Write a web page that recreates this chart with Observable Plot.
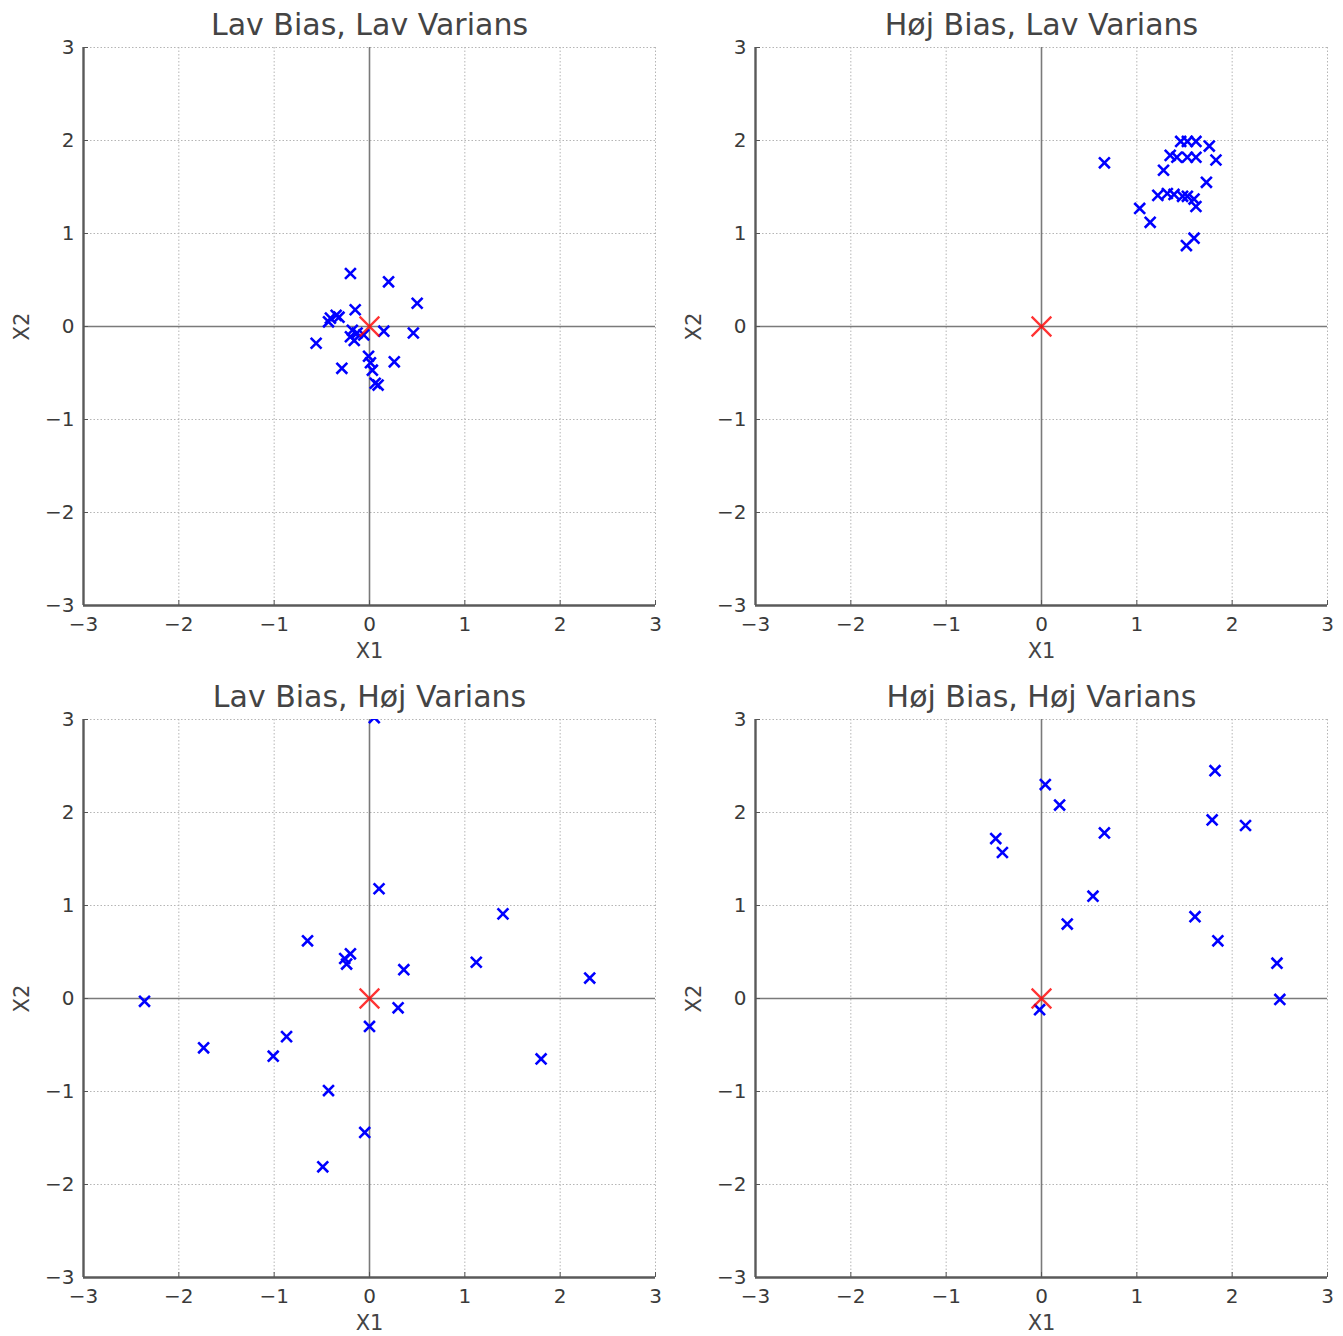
<!DOCTYPE html>
<html>
<head>
<meta charset="utf-8">
<script src="https://cdn.jsdelivr.net/npm/d3@7"></script>
<script src="https://cdn.jsdelivr.net/npm/@observablehq/plot@0.6"></script>
<style>
  html, body { margin: 0; padding: 0; background: #fff; }
  #wrap { position: relative; width: 1343px; height: 1336px; overflow: hidden; background: #fff; }
  #wrap > svg { position: absolute; }
</style>
</head>
<body>
<div id="wrap"></div>
<script>
// Titles
const titles = ["Lav Bias, Lav Varians", "Høj Bias, Lav Varians", "Lav Bias, Høj Varians", "Høj Bias, Høj Varians"];
const ticks = [-3, -2, -1, 0, 1, 2, 3];
const targetX = [0];
const targetY = [0];

// Panel 1: low bias, low variance
const llX = [-0.20, 0.20, 0.50, -0.15, -0.35, -0.41, -0.43, -0.32, -0.18, -0.13, -0.20, -0.16, -0.06, 0.15, 0.46, -0.56, -0.29, -0.01, 0.01, 0.03, 0.26, 0.06, 0.09];
const llY = [0.57, 0.48, 0.25, 0.18, 0.12, 0.09, 0.05, 0.10, -0.04, -0.07, -0.11, -0.15, -0.09, -0.05, -0.07, -0.18, -0.45, -0.32, -0.39, -0.47, -0.38, -0.61, -0.63];

// Panel 2: high bias, low variance
const hlX = [0.66, 1.46, 1.53, 1.62, 1.76, 1.83, 1.35, 1.42, 1.53, 1.62, 1.28, 1.73, 1.22, 1.32, 1.39, 1.48, 1.53, 1.60, 1.62, 1.03, 1.14, 1.60, 1.52];
const hlY = [1.76, 1.99, 1.99, 1.99, 1.94, 1.79, 1.84, 1.82, 1.82, 1.82, 1.68, 1.55, 1.41, 1.43, 1.42, 1.40, 1.40, 1.37, 1.29, 1.27, 1.12, 0.95, 0.87];

// Panel 3: low bias, high variance
const lhX = [-2.36, -1.74, -1.01, -0.87, -0.65, -0.26, -0.20, -0.24, -0.43, -0.49, -0.05, 0.00, 0.30, 0.36, 0.10, 0.05, 1.12, 1.40, 1.80, 2.31];
const lhY = [-0.03, -0.53, -0.62, -0.41, 0.62, 0.43, 0.48, 0.37, -0.99, -1.81, -1.44, -0.30, -0.10, 0.31, 1.18, 3.02, 0.39, 0.91, -0.65, 0.22];

// Panel 4: high bias, high variance
const hhX = [-0.48, -0.41, 0.04, 0.19, 0.66, 0.54, 0.27, -0.02, 1.82, 1.79, 2.14, 1.61, 1.85, 2.47, 2.50];
const hhY = [1.72, 1.57, 2.30, 2.08, 1.78, 1.10, 0.80, -0.12, 2.45, 1.92, 1.86, 0.88, 0.62, 0.38, -0.01];

const panelData = [[llX, llY], [hlX, hlY], [lhX, lhY], [hhX, hhY]];
const positions = [[0, 0, 670], [672, 0, 670], [0, 672, 664], [672, 672, 664]];
const fmt = d => (d < 0 ? "\u2212" + Math.abs(d) : String(d));

const wrap = document.getElementById("wrap");
panelData.forEach(([xs, ys], i) => {
  const pts = xs.map((x, j) => ({x, y: ys[j]}));
  const target = targetX.map((x, j) => ({x, y: targetY[j]}));
  const [left, top, h] = positions[i];
  const chart = Plot.plot({
    width: 671,
    height: h,
    marginLeft: 83,
    marginRight: 16,
    marginTop: 47,
    marginBottom: h - 605,
    x: {domain: [-3, 3]},
    y: {domain: [-3, 3]},
    style: {fontFamily: "DejaVu Sans", background: "white", color: "#3a3a3a", overflow: "visible"},
    marks: [
      Plot.gridX(ticks, {stroke: "#b5b5b5", strokeOpacity: 1, strokeDasharray: "1.5,2", strokeWidth: 1}),
      Plot.gridY(ticks, {stroke: "#b5b5b5", strokeOpacity: 1, strokeDasharray: "1.5,2", strokeWidth: 1}),
      Plot.ruleX([0], {stroke: "#7a7a7a", strokeWidth: 1.6}),
      Plot.ruleY([0], {stroke: "#7a7a7a", strokeWidth: 1.6}),
      Plot.axisX(ticks, {tickSize: -5, tickPadding: 16, fontSize: 20, tickFormat: fmt, label: null, stroke: "#555", fill: "#3a3a3a"}),
      Plot.axisY(ticks, {tickSize: -5, tickPadding: 14, fontSize: 20, tickFormat: fmt, label: null, stroke: "#555", fill: "#3a3a3a"}),
      Plot.ruleX([-3], {stroke: "#5a5a5a", strokeWidth: 2.4}),
      Plot.ruleY([-3], {stroke: "#5a5a5a", strokeWidth: 2.4}),
      Plot.text([titles[i]], {frameAnchor: "top", dy: -22, lineAnchor: "middle", textAnchor: "middle", fontSize: 30, fill: "#444"}),
      Plot.text(["X1"], {frameAnchor: "bottom", dy: 46, lineAnchor: "middle", textAnchor: "middle", fontSize: 21, fill: "#444"}),
      Plot.text(["X2"], {frameAnchor: "left", dx: -61, lineAnchor: "middle", textAnchor: "middle", rotate: -90, fontSize: 21, fill: "#444"}),
      Plot.dot(pts, {x: "x", y: "y", symbol: "times", r: 5, stroke: "blue", strokeWidth: 2.6, clip: true}),
      Plot.dot(target, {x: "x", y: "y", symbol: "times", r: 9, stroke: "red", strokeWidth: 2.3, strokeOpacity: 0.8})
    ]
  });
  chart.style.left = left + "px";
  chart.style.top = top + "px";
  wrap.appendChild(chart);
});
</script>
</body>
</html>
